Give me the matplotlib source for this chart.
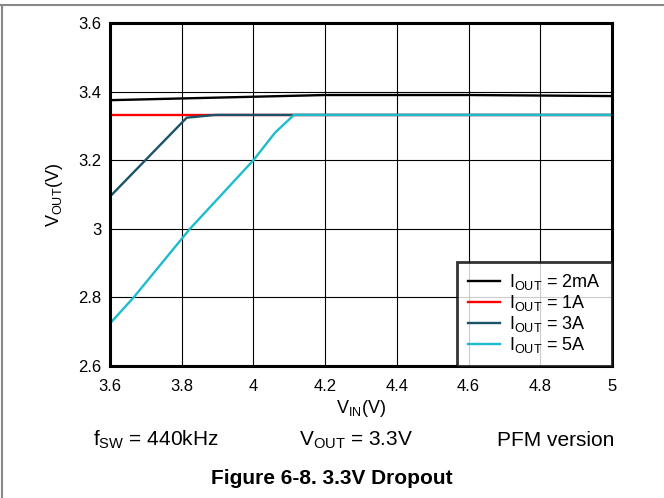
import matplotlib
matplotlib.use("Agg")
import matplotlib.pyplot as plt
from matplotlib.lines import Line2D

plt.rcParams['font.family'] = ['Liberation Sans', 'DejaVu Sans']
plt.rcParams['mathtext.fontset'] = 'custom'
plt.rcParams['mathtext.rm'] = 'Liberation Sans'
plt.rcParams['mathtext.it'] = 'Liberation Sans'

# Data
vin_2ma = [3.6, 3.8, 4.0, 4.2, 4.6, 5.0]
vout_2ma = [3.375, 3.380, 3.385, 3.390, 3.390, 3.387]
vin_1a = [3.6, 5.0]
vout_1a = [3.333, 3.333]
vin_3a = [3.6, 3.814, 3.893, 5.0]
vout_3a = [3.094, 3.324, 3.332, 3.332]
vin_5a = [3.6, 3.666, 3.823, 4.0, 4.06, 4.113, 5.0]
vout_5a = [2.724, 2.80, 3.0, 3.2, 3.28, 3.332, 3.332]

labels = [r'$\mathregular{I_{OUT}}$ = 2mA', r'$\mathregular{I_{OUT}}$ = 1A',
          r'$\mathregular{I_{OUT}}$ = 3A', r'$\mathregular{I_{OUT}}$ = 5A']
colors = ['#000000', '#ff0000', '#1b5468', '#1cbccc']

xticks = [3.6, 3.8, 4.0, 4.2, 4.4, 4.6, 4.8, 5.0]
xticklabels = ['3.6', '3.8', '4', '4.2', '4.4', '4.6', '4.8', '5']
yticks = [2.6, 2.8, 3.0, 3.2, 3.4, 3.6]
yticklabels = ['2.6', '2.8', '3', '3.2', '3.4', '3.6']

fig = plt.figure(figsize=(6.64, 4.98), dpi=100)
ax = fig.add_axes([110/664, 1 - 366/498, (612-110)/664, (366-23)/498])

series = [(vin_2ma, vout_2ma), (vin_1a, vout_1a), (vin_3a, vout_3a), (vin_5a, vout_5a)]
for (x, y), c, l in zip(series, colors, labels):
    ax.plot(x, y, color=c, lw=1.7, label=l, zorder=3)

ax.set_xlim(3.6, 5.0)
ax.set_ylim(2.6, 3.6)
ax.set_xticks(xticks)
ax.set_xticklabels(xticklabels)
ax.set_yticks(yticks)
ax.set_yticklabels(yticklabels)
ax.tick_params(length=0, labelsize=12)
ax.tick_params(axis='x', pad=9)
ax.tick_params(axis='y', pad=6)
ax.grid(True, color='black', lw=0.8)
for s in ax.spines.values():
    s.set_linewidth(2.2)
    s.set_zorder(5)

ax.set_xlabel(r'$\mathregular{V_{IN}}$(V)', fontsize=13, labelpad=3)
ax.set_ylabel(r'$\mathregular{V_{OUT}}$(V)', fontsize=13, labelpad=10)

leg = ax.legend(loc='lower right', fontsize=13, frameon=True, fancybox=False,
                borderaxespad=0, handlelength=1.8, labelspacing=0.05,
                borderpad=0.6, handletextpad=0.5)
leg.get_frame().set_edgecolor('black')
leg.get_frame().set_linewidth(2.0)
leg.set_zorder(6)

fig.text(156/664, 1 - 440/498, r'$\mathregular{f_{SW}}$ = 440kHz', fontsize=15, ha='center', va='center')
fig.text(356/664, 1 - 440/498, r'$\mathregular{V_{OUT}}$ = 3.3V', fontsize=15, ha='center', va='center')
fig.text(556/664, 1 - 440/498, 'PFM version', fontsize=15, ha='center', va='center')
fig.text(332/664, 1 - 478/498, 'Figure 6-8. 3.3V Dropout', fontsize=15, ha='center', va='center', fontweight='bold')

fig.add_artist(Line2D([0, 1], [1 - 5/498, 1 - 5/498], color='#888888', lw=1.5, transform=fig.transFigure))
fig.add_artist(Line2D([1.5/664, 1.5/664], [0, 1 - 5/498], color='#888888', lw=1.5, transform=fig.transFigure))

fig.savefig('out.png', dpi=100)
